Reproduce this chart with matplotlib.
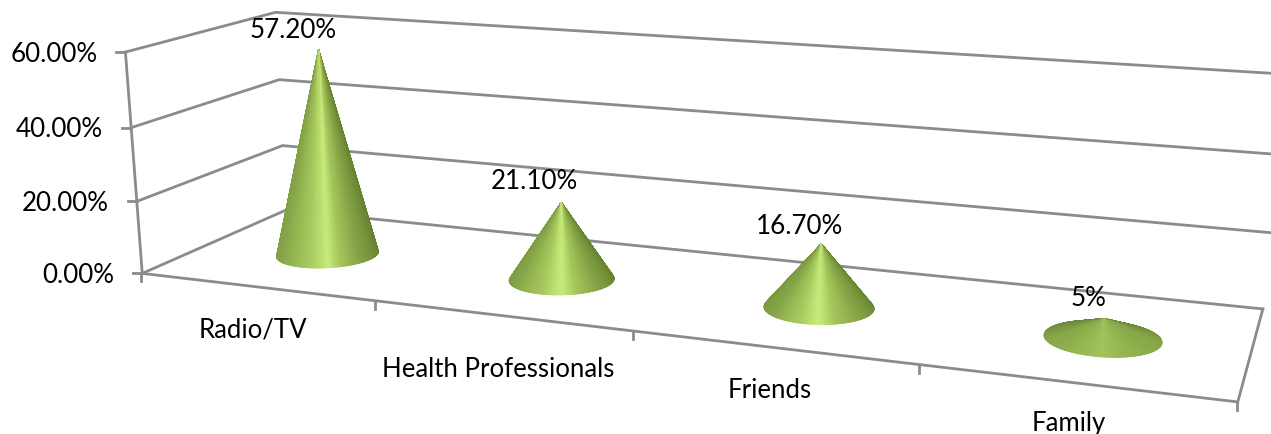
import numpy as np
import matplotlib.pyplot as plt
from matplotlib.collections import PolyCollection
from matplotlib.colors import to_rgb

categories = ['Radio/TV', 'Health Professionals', 'Friends', 'Family']
values = [57.2, 21.1, 16.7, 5.0]
value_labels = ['57.20%', '21.10%', '16.70%', '5%']
y_ticks = [0, 20, 40, 60]
y_tick_labels = ['0.00%', '20.00%', '40.00%', '60.00%']

# label offsets in pixels, from the cone tip / from the floor edge
value_offset = [(-25, -21), (-27, -22), (-22, -19), (-16, -21)]
cat_offset = [(-8, 42), (-8, 52), (-8, 42), (-11, 39)]

# where the box corners land in the picture: (category pos, depth, value) -> pixel
calib = [
    (0, 0, 0, 143, 275), (0, 0, 20, 137, 202), (0, 0, 40, 131, 128), (0, 0, 60, 125, 53),
    (0, 1, 0, 285, 212), (0, 1, 20, 283, 146), (0, 1, 40, 279, 80), (0, 1, 60, 276, 14),
    (4, 1, 0, 1263, 309), (4, 1, 60, 1289, 76),
    (4, 0, 0, 1238, 403),
    (1, 0, 0, 376, 302), (2, 0, 0, 634, 332), (3, 0, 0, 919, 366),
]

rows = []
for u, d, v, px, py in calib:
    X = [u, d, v / 60, 1]
    rows.append(X + [0, 0, 0, 0] + [-px * a for a in X])
    rows.append([0, 0, 0, 0] + X + [-py * a for a in X])
P = np.linalg.svd(np.array(rows))[2][-1].reshape(3, 4)


def project(u, d, v):
    u, d, v = np.broadcast_arrays(u, d, v)
    X = np.stack([u, d, v / 60, np.ones_like(u, dtype=float)])
    x, y, w = P @ X
    return x / w, y / w


def cone_colors(theta, peak):
    # theta = pi/2 is the side facing the viewer
    stops_t = np.radians([-90, 0, 40, 72, 90, 112, 150, 180, 270])
    stops_c = ['#5c7530', '#66832f', '#84a245', '#a6c65c', '#c8ec7c',
               '#a9ca5e', '#86a548', '#7c9a40', '#5c7530']
    t = (theta + np.pi / 2) % (2 * np.pi) - np.pi / 2
    rgb = np.array([to_rgb(c) for c in stops_c])
    out = np.stack([np.interp(t, stops_t, rgb[:, i]) for i in range(3)], axis=1)
    # nearly flat cones: plain front, darker towards the back
    w = (np.clip(0.2 - np.sin(theta), 0, 1) * 0.8)[:, None]
    low = (1 - w) * np.array(to_rgb('#8fb04e')) + w * np.array(to_rgb('#5f7a35'))
    return peak * out + (1 - peak) * low


plt.rcParams['font.family'] = ['Lato', 'DejaVu Sans']
fig = plt.figure(figsize=(12.71, 4.35), dpi=100)
ax = fig.add_axes([0, 0, 1, 1])
ax.set_xlim(0, 1271)
ax.set_ylim(435, 0)
ax.axis('off')

grey = '#8b8b8b'
lw = 2
n = len(categories)

# walls, gridlines and value ticks
for v, lab in zip(y_ticks, y_tick_labels):
    xs, ys = project(np.array([0, 0, n]), np.array([0, 1, 1]), np.full(3, v))
    ax.plot(xs, ys, color=grey, lw=lw, solid_joinstyle='miter')
    ax.plot([xs[0] - 9, xs[0]], [ys[0], ys[0]], color=grey, lw=lw)
    ax.text(xs[0] - 28, ys[0] + 1, lab, ha='right', va='center', fontsize=18.7, color='black')

xs, ys = project(np.zeros(2), np.zeros(2), np.array([0, 60]))
ax.plot(xs, ys, color=grey, lw=lw)
xs, ys = project(np.array([0, n, n]), np.array([0, 0, 1]), np.zeros(3))
ax.plot(xs, ys, color=grey, lw=lw, solid_joinstyle='miter')
for i in range(n + 1):
    x, y = project(i, 0, 0)
    ax.plot([x - 1, x - 1], [y, y + 8], color=grey, lw=lw)

# cones
radius = 0.195
theta = np.radians(np.arange(0, 360, 1.0))
for i, val in enumerate(values):
    cu = i + 0.517
    tipx, tipy = project(cu, 0.475, val)
    cx, cy = project(cu, 0.475, 0)
    # depth 0 is the front, so the viewer side has sin(theta) > 0 -> d smaller
    bx, by = project(cu + radius * np.cos(theta), 0.475 - radius * np.sin(theta), 0)
    next_x, next_y = np.roll(bx, -1), np.roll(by, -1)
    polys = [[(tipx, tipy), (bx[k], by[k]), (next_x[k], next_y[k])] for k in range(len(theta))]
    order = np.argsort(by)
    # shade by the angle seen on screen, so the highlight sits in the middle
    seen = np.arctan2((by - cy) * 3, bx - cx)
    colors = cone_colors(seen, min(1.0, val / 15))
    pc = PolyCollection([polys[k] for k in order], facecolors=colors[order],
                        edgecolors='face', linewidths=0.7, zorder=3)
    ax.add_collection(pc)

    ax.text(tipx + value_offset[i][0], tipy + value_offset[i][1], value_labels[i],
            ha='center', va='center', fontsize=18.7, color='black', zorder=4)
    fx, fy = project(cu, 0, 0)
    ax.text(fx + cat_offset[i][0], fy + cat_offset[i][1], categories[i],
            ha='center', va='center', fontsize=18.5, color='black')

fig.savefig('out.png', dpi=100)
